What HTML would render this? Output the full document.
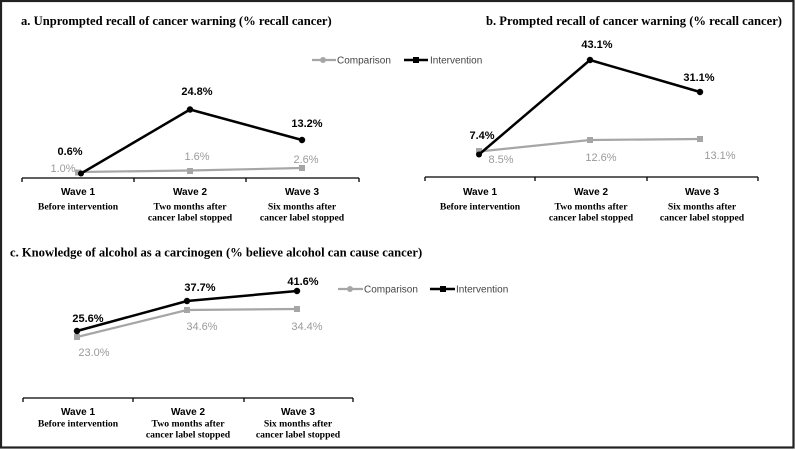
<!DOCTYPE html>
<html><head><meta charset="utf-8"><style>
html,body{margin:0;padding:0;background:#fff;}
svg{display:block;}
.t{font-family:"Liberation Serif",serif;font-weight:bold;font-size:12.6px;fill:#000;}
.lb{font-family:"Liberation Sans",sans-serif;font-weight:bold;font-size:11px;fill:#000;text-anchor:middle;}
.lg{font-family:"Liberation Sans",sans-serif;font-size:11px;fill:#9a9a9a;text-anchor:middle;}
.w{font-family:"Liberation Sans",sans-serif;font-weight:bold;font-size:10px;fill:#000;text-anchor:middle;}
.s{font-family:"Liberation Serif",serif;font-weight:bold;font-size:9.7px;fill:#000;text-anchor:middle;}
.leg{font-family:"Liberation Sans",sans-serif;font-size:10px;fill:#444;}
</style></head><body>
<svg width="795" height="450" viewBox="0 0 795 450" xmlns="http://www.w3.org/2000/svg">
<rect x="0" y="0" width="795" height="450" fill="#fff"/>
<rect x="1" y="1" width="792.5" height="446.5" fill="none" stroke="#222" stroke-width="2.2"/>

<!-- Chart a -->
<text class="t" x="21" y="25">a. Unprompted recall of cancer warning (% recall cancer)</text>
<g stroke="#000" stroke-width="1.3" fill="none">
<line x1="22" y1="178" x2="359" y2="178"/>
<line x1="22" y1="178" x2="22" y2="182"/><line x1="134" y1="178" x2="134" y2="182"/>
<line x1="246" y1="178" x2="246" y2="182"/><line x1="359" y1="178" x2="359" y2="182"/>
</g>
<polyline points="78,172 190,170.5 302,168" fill="none" stroke="#a6a6a6" stroke-width="2.2"/>
<rect x="75" y="169.5" width="6" height="6" fill="#a6a6a6"/>
<rect x="187" y="168" width="6" height="6" fill="#a6a6a6"/>
<rect x="299" y="165" width="6" height="6" fill="#a6a6a6"/>
<polyline points="81,173.5 190,109.5 302,140" fill="none" stroke="#000" stroke-width="2.5"/>
<circle cx="81" cy="173.5" r="3" fill="#000"/><circle cx="190" cy="109.5" r="3.2" fill="#000"/><circle cx="302" cy="140" r="3.2" fill="#000"/>
<text class="lb" x="70" y="155">0.6%</text>
<text class="lb" x="197" y="95">24.8%</text>
<text class="lb" x="307" y="127">13.2%</text>
<text class="lg" x="63" y="172">1.0%</text>
<text class="lg" x="197" y="160">1.6%</text>
<text class="lg" x="306" y="163">2.6%</text>
<text class="w" x="78" y="195">Wave 1</text>
<text class="s" x="78" y="209.5">Before intervention</text>
<text class="w" x="190" y="195">Wave 2</text>
<text class="s" x="190" y="209.5">Two months after</text>
<text class="s" x="190" y="220.5">cancer label stopped</text>
<text class="w" x="302" y="195">Wave 3</text>
<text class="s" x="302" y="209.5">Six months after</text>
<text class="s" x="302" y="220.5">cancer label stopped</text>

<!-- Legend a/b -->
<line x1="312" y1="60" x2="336" y2="60" stroke="#a6a6a6" stroke-width="2.2"/>
<circle cx="323" cy="60" r="3" fill="#a6a6a6"/>
<text class="leg" x="337" y="63.5">Comparison</text>
<line x1="404" y1="60" x2="428" y2="60" stroke="#000" stroke-width="2.5"/>
<rect x="413" y="57" width="6" height="6" fill="#000"/>
<text class="leg" x="430" y="63.5">Intervention</text>

<!-- Chart b -->
<text class="t" x="486" y="25">b. Prompted recall of cancer warning (% recall cancer)</text>
<g stroke="#000" stroke-width="1.3" fill="none">
<line x1="425" y1="177" x2="758" y2="177"/>
<line x1="425" y1="177" x2="425" y2="181"/><line x1="535" y1="177" x2="535" y2="181"/>
<line x1="647" y1="177" x2="647" y2="181"/><line x1="758" y1="177" x2="758" y2="181"/>
</g>
<polyline points="479,151.5 590,140 700,139" fill="none" stroke="#a6a6a6" stroke-width="2.2"/>
<rect x="476" y="148" width="6" height="6" fill="#a6a6a6"/>
<rect x="587" y="137" width="6" height="6" fill="#a6a6a6"/>
<rect x="697" y="136" width="6" height="6" fill="#a6a6a6"/>
<polyline points="479,154.5 590,60 700,92" fill="none" stroke="#000" stroke-width="2.5"/>
<circle cx="479" cy="154.5" r="3" fill="#000"/><circle cx="590" cy="60" r="3.2" fill="#000"/><circle cx="700" cy="92" r="3.2" fill="#000"/>
<text class="lb" x="482" y="139">7.4%</text>
<text class="lb" x="597" y="48">43.1%</text>
<text class="lb" x="699" y="81">31.1%</text>
<text class="lg" x="501" y="163">8.5%</text>
<text class="lg" x="601" y="161">12.6%</text>
<text class="lg" x="720" y="159">13.1%</text>
<text class="w" x="480" y="195">Wave 1</text>
<text class="s" x="480" y="209.5">Before intervention</text>
<text class="w" x="591" y="195">Wave 2</text>
<text class="s" x="591" y="209.5">Two months after</text>
<text class="s" x="591" y="220.5">cancer label stopped</text>
<text class="w" x="702" y="195">Wave 3</text>
<text class="s" x="702" y="209.5">Six months after</text>
<text class="s" x="702" y="220.5">cancer label stopped</text>

<!-- Chart c -->
<text class="t" x="10" y="256.5">c. Knowledge of alcohol as a carcinogen (% believe alcohol can cause cancer)</text>
<g stroke="#000" stroke-width="1.3" fill="none">
<line x1="23" y1="398" x2="353" y2="398"/>
<line x1="23" y1="398" x2="23" y2="402"/><line x1="133" y1="398" x2="133" y2="402"/>
<line x1="244" y1="398" x2="244" y2="402"/><line x1="353" y1="398" x2="353" y2="402"/>
</g>
<polyline points="77,337 187,310 297,309" fill="none" stroke="#a6a6a6" stroke-width="2.2"/>
<rect x="74" y="334" width="6" height="6" fill="#a6a6a6"/>
<rect x="184" y="307" width="6" height="6" fill="#a6a6a6"/>
<rect x="294" y="306" width="6" height="6" fill="#a6a6a6"/>
<polyline points="77,331 187,301 297,291" fill="none" stroke="#000" stroke-width="2.5"/>
<circle cx="77" cy="331" r="3.2" fill="#000"/><circle cx="187" cy="301" r="3.2" fill="#000"/><circle cx="297" cy="291" r="3.2" fill="#000"/>
<text class="lb" x="88" y="322">25.6%</text>
<text class="lb" x="200" y="291">37.7%</text>
<text class="lb" x="303" y="285">41.6%</text>
<text class="lg" x="94" y="356">23.0%</text>
<text class="lg" x="202" y="330">34.6%</text>
<text class="lg" x="307" y="330">34.4%</text>
<text class="w" x="78" y="415">Wave 1</text>
<text class="s" x="78" y="426.5">Before intervention</text>
<text class="w" x="188" y="415">Wave 2</text>
<text class="s" x="188" y="426.5">Two months after</text>
<text class="s" x="188" y="437.5">cancer label stopped</text>
<text class="w" x="298" y="415">Wave 3</text>
<text class="s" x="298" y="426.5">Six months after</text>
<text class="s" x="298" y="437.5">cancer label stopped</text>

<!-- Legend c -->
<line x1="338" y1="289" x2="363" y2="289" stroke="#a6a6a6" stroke-width="2.2"/>
<circle cx="350" cy="289" r="3" fill="#a6a6a6"/>
<text class="leg" x="364" y="292.5">Comparison</text>
<line x1="430" y1="289" x2="455" y2="289" stroke="#000" stroke-width="2.5"/>
<rect x="440" y="286" width="6" height="6" fill="#000"/>
<text class="leg" x="456" y="292.5">Intervention</text>
</svg>
</body></html>
